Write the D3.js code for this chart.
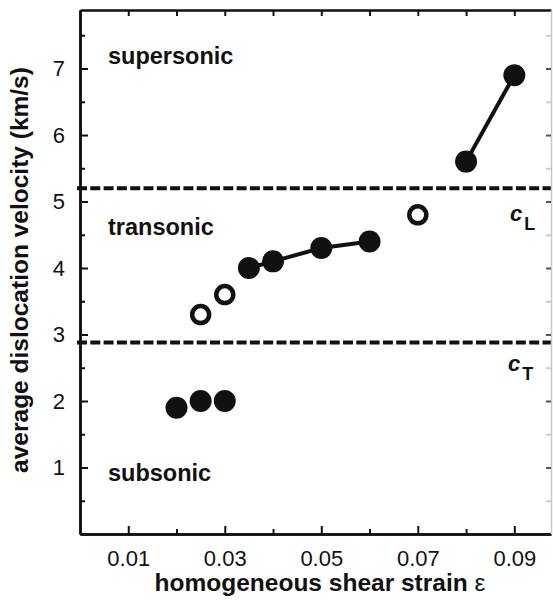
<!DOCTYPE html>
<html>
<head>
<meta charset="utf-8">
<script src="https://cdn.jsdelivr.net/npm/d3@7"></script>
<style>
  body { margin: 0; background: #fff; }
  svg { display: block; font-family: "Liberation Sans", Arial, Helvetica, sans-serif; }
  .tick text { font-size: 22px; fill: #111; }
  .title { font-size: 24.5px; font-weight: bold; fill: #111; }
  .regime { font-size: 23.5px; font-weight: bold; fill: #111; }
</style>
</head>
<body>
<div id="chart"></div>
<script>
// dislocation velocity vs applied shear strain
let subStrain = [0.02, 0.025, 0.03],
    subVel = [1.9, 2.0, 2.0],
    tranStrain = [0.035, 0.04, 0.05, 0.06],
    tranVel = [4.0, 4.1, 4.3, 4.4],
    superStrain = [0.08, 0.09],
    superVel = [5.6, 6.9],
    openStrain = [0.025, 0.03, 0.07],
    openVel = [3.3, 3.6, 4.8];

// wave speeds (km/s)
let cT = 2.88, cL = 5.2;

let xMajor = [0.01, 0.03, 0.05, 0.07, 0.09],
    xMinor = [0.02, 0.04, 0.06, 0.08],
    yMajor = [1, 2, 3, 4, 5, 6, 7],
    yMinor = [0.5, 1.5, 2.5, 3.5, 4.5, 5.5, 6.5, 7.5];

let W = 553, H = 601,
    padL = 80, padR = 551, padT = 10, padB = 534;

let svg = d3.select("#chart").append("svg")
    .attr("width", W)
    .attr("height", H);

let x = d3.scaleLinear().domain([0, 0.0976]).range([padL, padR]);
let y = d3.scaleLinear().domain([0, 7.88]).range([padB, padT]);

function zip(xs, ys) {
    return xs.map(function (d, i) { return [d, ys[i]]; });
}

// dashed wave speed lines
svg.selectAll(".speed")
    .data([cT, cL])
    .enter().append("line")
    .attr("x1", padL - 3).attr("x2", padR)
    .attr("y1", function (d) { return y(d); })
    .attr("y2", function (d) { return y(d); })
    .attr("stroke", "#111")
    .attr("stroke-width", 4)
    .attr("stroke-dasharray", "10,3.3");

// axes - ticks point inward
function styleAxis(g) {
    g.select(".domain").attr("stroke", "#111").attr("stroke-width", 2.5);
    g.selectAll(".tick line").attr("stroke", "#111").attr("stroke-width", 2);
}

svg.append("g")
    .attr("transform", "translate(0," + padB + ")")
    .call(d3.axisBottom(x).tickValues(xMajor).tickSizeInner(-8).tickSizeOuter(0).tickPadding(16).tickFormat(d3.format(".2f")))
    .call(styleAxis);
svg.append("g")
    .attr("transform", "translate(0," + padB + ")")
    .call(d3.axisBottom(x).tickValues(xMinor).tickSizeInner(-5).tickSizeOuter(0).tickFormat(""))
    .call(styleAxis);

svg.append("g")
    .attr("transform", "translate(0," + padT + ")")
    .call(d3.axisTop(x).tickValues(xMajor.concat(xMinor)).tickSizeInner(-6).tickSizeOuter(0).tickFormat(""))
    .call(styleAxis);

svg.append("g")
    .attr("transform", "translate(" + padL + ",0)")
    .call(d3.axisLeft(y).tickValues(yMajor).tickSizeInner(-8).tickSizeOuter(0).tickPadding(15).tickFormat(d3.format("d")))
    .call(styleAxis);
svg.append("g")
    .attr("transform", "translate(" + padL + ",0)")
    .call(d3.axisLeft(y).tickValues(yMinor).tickSizeInner(-5).tickSizeOuter(0).tickFormat(""))
    .call(styleAxis);

// faint right frame
let rightAxis = svg.append("g")
    .attr("transform", "translate(" + padR + ",0)")
    .call(d3.axisRight(y).tickValues(yMajor.concat(yMinor)).tickSizeInner(-5).tickSizeOuter(0).tickFormat(""));
rightAxis.select(".domain").attr("stroke", "#c8c8c8").attr("stroke-width", 1.5);
rightAxis.selectAll(".tick line").attr("stroke", "#555").attr("stroke-width", 2);
rightAxis.selectAll(".tick").filter(function (d) { return d % 1 !== 0; })
    .select("line").attr("stroke", "#ccc");

// connecting lines
let line = d3.line()
    .x(function (d) { return x(d[0]); })
    .y(function (d) { return y(d[1]); });

[zip(tranStrain, tranVel), zip(superStrain, superVel)].forEach(function (pts) {
    svg.append("path")
        .attr("d", line(pts))
        .attr("fill", "none")
        .attr("stroke", "#111")
        .attr("stroke-width", 4);
});

// filled markers
let filled = zip(subStrain, subVel).concat(zip(tranStrain, tranVel), zip(superStrain, superVel));
svg.selectAll(".dot")
    .data(filled)
    .enter().append("circle")
    .attr("class", "dot")
    .attr("cx", function (d) { return x(d[0]); })
    .attr("cy", function (d) { return y(d[1]); })
    .attr("r", 11)
    .attr("fill", "#111");

// open markers
svg.selectAll(".open")
    .data(zip(openStrain, openVel))
    .enter().append("circle")
    .attr("class", "open")
    .attr("cx", function (d) { return x(d[0]); })
    .attr("cy", function (d) { return y(d[1]); })
    .attr("r", 8.5)
    .attr("fill", "#fff")
    .attr("stroke", "#111")
    .attr("stroke-width", 4.5);

// regime labels
svg.selectAll(".regime")
    .data([["supersonic", 64], ["transonic", 235], ["subsonic", 481]])
    .enter().append("text")
    .attr("class", "regime")
    .attr("x", 108)
    .attr("y", function (d) { return d[1]; })
    .text(function (d) { return d[0]; });

// wave speed labels
function speedLabel(sub, xPos, base) {
    let t = svg.append("text")
        .attr("x", xPos)
        .attr("y", base)
        .attr("font-weight", "bold")
        .attr("fill", "#111");
    t.append("tspan").attr("font-style", "italic").attr("font-size", 22).text("c");
    t.append("tspan").attr("font-size", 18).attr("dx", 2).attr("dy", 9).text(sub);
}
speedLabel("L", 510, 221);
speedLabel("T", 508, 371);

// axis titles
svg.append("text")
    .attr("class", "title")
    .attr("x", 320)
    .attr("y", 591)
    .attr("text-anchor", "middle")
    .text("homogeneous shear strain ")
    .append("tspan").attr("font-weight", "normal").text("ε");

svg.append("text")
    .attr("class", "title")
    .attr("transform", "translate(28,270) rotate(-90)")
    .attr("text-anchor", "middle")
    .text("average dislocation velocity (km/s)");
</script>
</body>
</html>
